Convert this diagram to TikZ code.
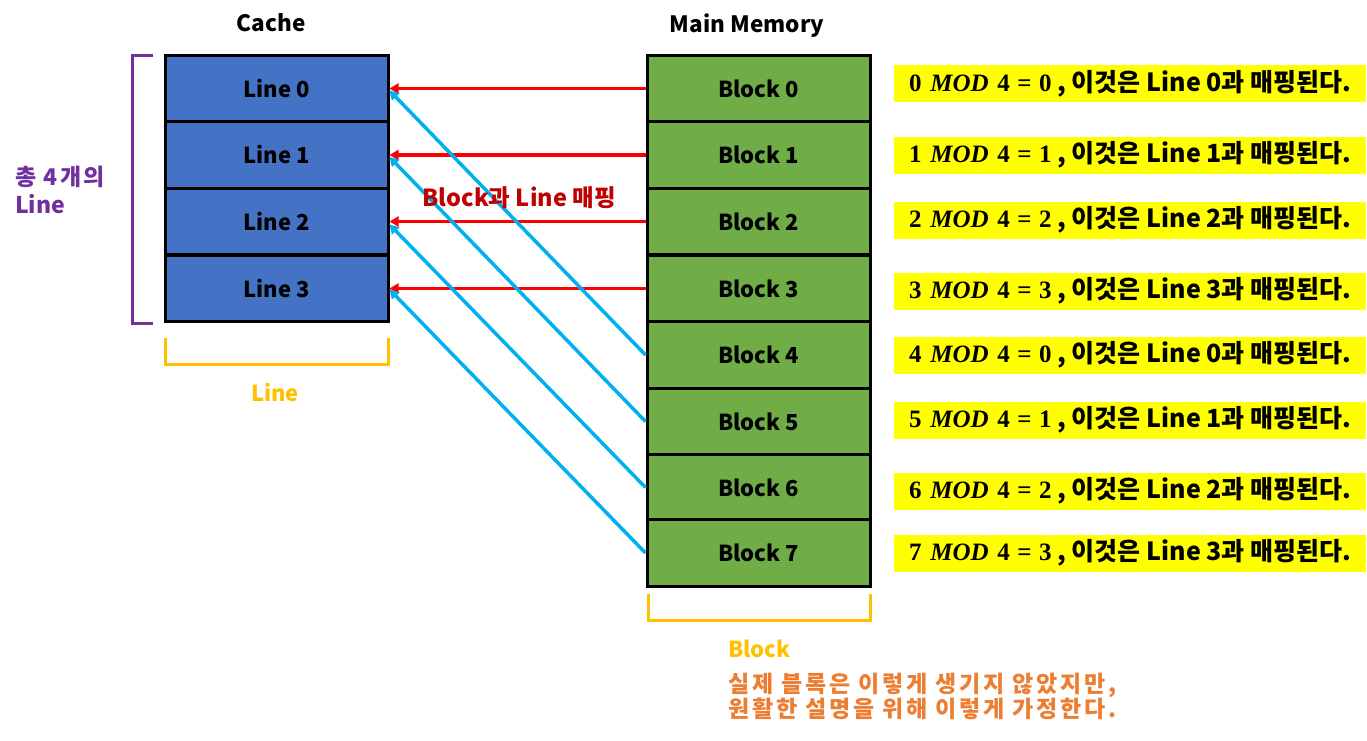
\documentclass[tikz,border=0pt]{standalone}
\usepackage{fontspec}
\setmainfont{Noto Sans CJK KR}
\newfontfamily\serf{Liberation Serif}
\usetikzlibrary{arrows.meta}
\definecolor{cacheblue}{HTML}{4472C4}
\definecolor{memgreen}{HTML}{70AD47}
\definecolor{arrred}{HTML}{FF0000}
\definecolor{arrblue}{HTML}{00B0F0}
\definecolor{darkred}{HTML}{C00000}
\definecolor{purp}{HTML}{7030A0}
\definecolor{gold}{HTML}{FFC000}
\definecolor{orng}{HTML}{ED7D31}
\definecolor{hl}{HTML}{FFFF00}
\newcommand\fml[2]{{\serf\bfseries #1\hspace{0.35em}\textit{MOD}\hspace{0.35em}4\hspace{0.3em}=\hspace{0.3em}#2}}
\begin{document}
\begin{tikzpicture}[x=1pt,y=-1pt,
  cell/.style={draw=black,line width=3pt,minimum width=223pt,minimum height=66.5pt,inner sep=0pt,font=\fontsize{22}{26}\selectfont\bfseries},
  title/.style={font=\fontsize{22.5}{26}\selectfont\bfseries},
  redarr/.style={draw=arrred,line width=3.5pt,-{Triangle[length=9pt,width=10pt]}},
  bluearr/.style={draw=arrblue,line width=3.5pt,-{Triangle[length=9pt,width=10pt]}},
  formula/.style={fill=hl,minimum width=472pt,minimum height=37pt,inner sep=0pt,anchor=west,font=\fontsize{25}{27}\selectfont\bfseries},
  bracket/.style={line width=3pt}
]
\useasboundingbox (0,0) rectangle (1367,741);
% titles
\node[title] (cachet) at (271,23) {Cache};
\node[title] (memt) at (747,26) {Main Memory};
% cache
\foreach \i/\y in {0/88.5,1/155,2/221.5,3/288.5}{
  \node[cell,fill=cacheblue] (l\i) at (276.5,\y) {Line \i};
}
% memory
\foreach \i/\y in {0/88.5,1/155,2/221.5,3/288.5,4/355,5/421.5,6/487.5,7/553}{
  \node[cell,fill=memgreen] (b\i) at (758.5,\y) {Block \i};
}
% red arrows
\foreach \i in {0,1,2,3}{
  \draw[redarr] (b\i.west) -- (l\i.east);
}
% blue arrows
\draw[bluearr] (b4.west) -- ([yshift=-2pt]l0.east);
\draw[bluearr] (b5.west) -- ([yshift=-2pt]l1.east);
\draw[bluearr] (b6.west) -- ([yshift=-3pt]l2.east);
\draw[bluearr] (b7.west) -- ([yshift=-1pt]l3.east);
\node[font=\fontsize{23.5}{26}\selectfont\bfseries,text=darkred] (maplbl) at (519,198) {Block과 Line 매핑};
% purple bracket
\coordinate (pt) at (153,56);
\coordinate (pb) at (153,323);
\draw[bracket,purp] (pt) -- (132,56) -- (132,323) -- (pb);
\node[font=\fontsize{23}{28}\selectfont\bfseries,text=purp,align=left,anchor=north west,inner sep=0pt] (total) at (15,166) {{\addfontfeatures{LetterSpace=10}총 4개의}\\Line};
% yellow brackets
\coordinate (ct) at (165,338);
\coordinate (cr) at (388,338);
\draw[bracket,gold] (ct) -- (165,364) -- (388,364) -- (cr);
\node[font=\fontsize{22}{24}\selectfont\bfseries,text=gold] (linelbl) at (275,393) {Line};
\coordinate (mt) at (648,594);
\coordinate (mr) at (870,594);
\draw[bracket,gold] (mt) -- (648,620) -- (870,620) -- (mr);
\node[font=\fontsize{22}{24}\selectfont\bfseries,text=gold,anchor=west,inner sep=0pt] (blocklbl) at (728,649) {Block};
\node[font=\fontsize{23}{25}\selectfont\bfseries\addfontfeatures{LetterSpace=12},text=orng,align=left,anchor=north west,inner sep=0pt] (note) at (728,673) {실제 블록은 이렇게 생기지 않았지만,\\원활한 설명을 위해 이렇게 가정한다.};
% formulas
\foreach \n/\r/\y in {0/0/84,1/1/155,2/2/220,3/3/291,4/0/355,5/1/420,6/2/491,7/3/553}{
  \node[formula] (f\n) at (894,\y) {\fml{\n}{\r} , 이것은 Line \r 과 매핑된다.};
}
\end{tikzpicture}
\end{document}
